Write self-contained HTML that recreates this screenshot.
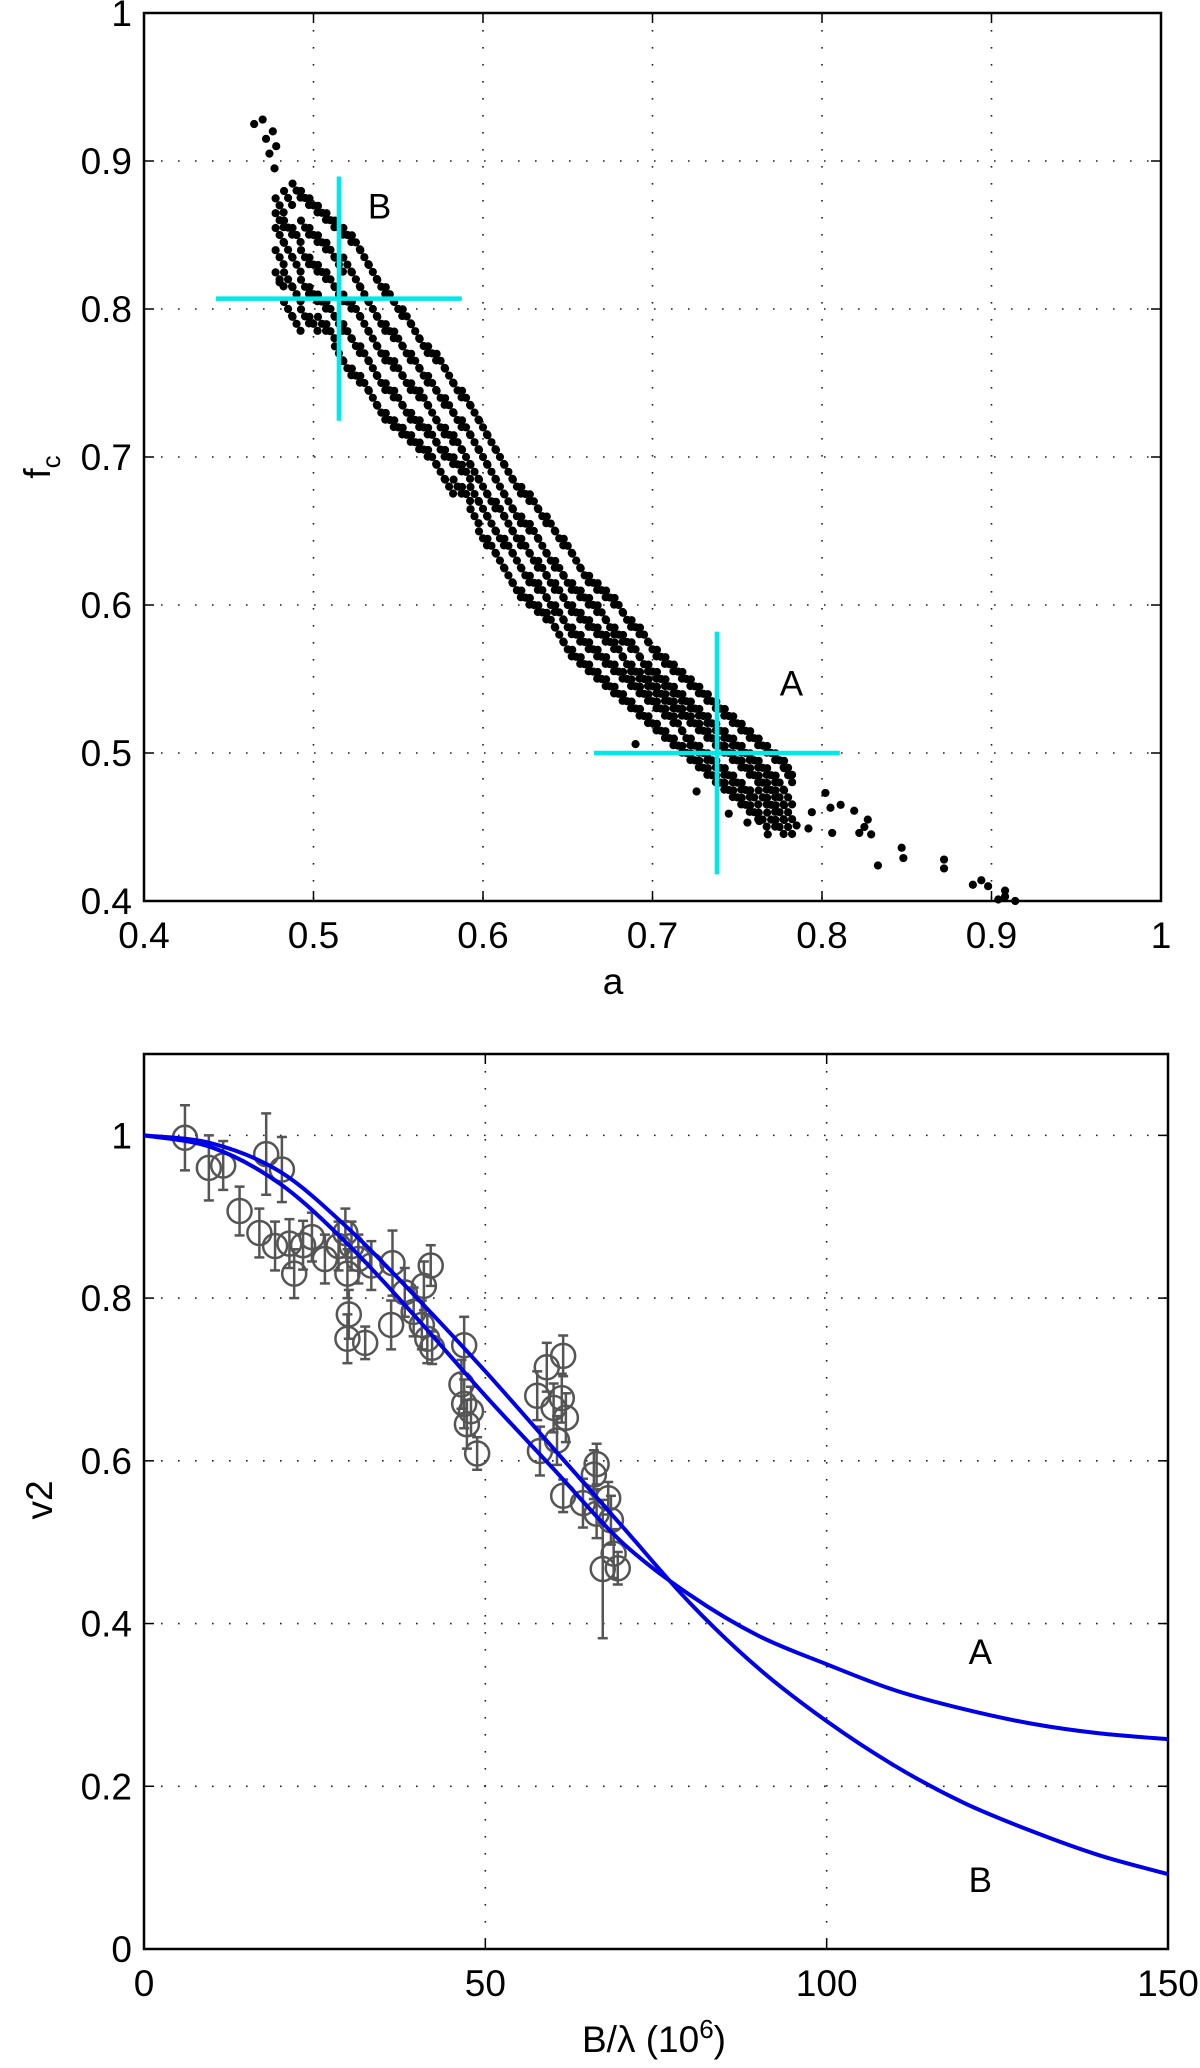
<!DOCTYPE html>
<html><head><meta charset="utf-8"><style>
html,body{margin:0;padding:0;background:#fff;}
svg{display:block;font-family:"Liberation Sans",sans-serif;}
</style></head><body>
<svg id="fig" width="1200" height="2068" viewBox="0 0 1200 2068" xmlns="http://www.w3.org/2000/svg">
<g id="top"></g>
<g id="bot"></g>
</svg>
<script>
// ---------- TOP PANEL DATA ----------
const topXTicks = [0.4,0.5,0.6,0.7,0.8,0.9,1];
const topYTicks = [0.4,0.5,0.6,0.7,0.8,0.9,1];
const topXTickLabels = ["0.4","0.5","0.6","0.7","0.8","0.9","1"];
const topYTickLabels = ["0.4","0.5","0.6","0.7","0.8","0.9","1"];
const bandA = [0.480,0.485,0.490,0.495,0.500,0.505,0.510,0.515,0.520,0.525,0.530,0.535,0.540,0.545,0.550,0.555,0.560,0.565,0.570,0.575,0.580,0.585,0.590,0.595,0.600,0.605,0.610,0.615,0.620,0.625,0.630,0.635,0.640,0.645,0.650,0.655,0.660,0.665,0.670,0.675,0.680,0.685,0.690,0.695,0.700,0.705,0.710,0.715,0.720,0.725,0.730,0.735,0.740,0.745,0.750,0.755,0.760,0.765,0.770,0.775,0.780];
const bandF = [
[.82,.835,.85,.86,.87],[.80,.82,.84,.855,.875],[.79,.81,.83,.85,.88],[.795,.815,.835,.855,.875],[.79,.81,.83,.85,.87],
[.79,.805,.825,.845,.865],[.785,.80,.82,.84,.86],[.77,.79,.81,.83,.855],[.76,.785,.805,.83,.85],[.755,.775,.80,.82,.845],
[.75,.77,.79,.81,.835],[.74,.76,.78,.80,.825],[.73,.75,.77,.79,.815],[.725,.745,.765,.785,.81],[.72,.74,.76,.78,.80],
[.715,.73,.75,.77,.795],[.71,.725,.745,.765,.785],[.705,.72,.74,.755,.775],[.70,.715,.73,.75,.77],[.69,.705,.72,.74,.765],
[.68,.70,.715,.735,.755],[.68,.695,.71,.725,.745],[.675,.69,.70,.72,.74],[.66,.675,.69,.71,.73],[.645,.665,.68,.70,.72],
[.64,.655,.67,.69,.71],[.63,.645,.665,.68,.70],[.62,.64,.655,.67,.69],[.61,.63,.645,.66,.68],[.605,.62,.64,.655,.675],
[.60,.615,.63,.65,.67],[.595,.61,.625,.64,.66],[.59,.60,.615,.63,.655],[.58,.595,.61,.625,.645],[.57,.585,.60,.615,.64],
[.565,.58,.595,.61,.63],[.56,.575,.59,.605,.62],[.555,.57,.585,.60,.615],[.55,.565,.58,.595,.61],[.545,.56,.575,.585,.605],
[.54,.555,.57,.58,.60],[.535,.55,.56,.575,.59],[.53,.545,.555,.57,.585],[.525,.54,.55,.56,.58],[.52,.535,.545,.555,.57],
[.515,.53,.54,.55,.565],[.51,.525,.535,.545,.56],[.505,.52,.53,.54,.555],[.50,.51,.525,.535,.55],[.495,.505,.52,.53,.545],
[.49,.50,.515,.525,.54],[.485,.495,.51,.52,.535],[.48,.49,.505,.515,.53],[.475,.485,.50,.51,.525],[.47,.48,.495,.505,.52],
[.465,.475,.49,.50,.515],[.46,.47,.485,.495,.51],[.455,.47,.48,.49,.505],[.455,.465,.475,.485,.50],[.45,.46,.47,.48,.495],[.45,.46,.47,.485,.49]];
const extraA = [0.465,0.47,0.472,0.474,0.476,0.478,0.477,0.48,0.833,0.847,0.848,0.872,0.872,0.889,0.894,0.898,0.904,0.908,0.908,0.914,0.822,0.829,0.825,0.827,0.819,0.811,0.805,0.806,0.802,0.794,0.792,0.785,0.768,0.763,0.756,0.745,0.726,0.690];
const extraF = [0.925,0.928,0.915,0.905,0.92,0.91,0.895,0.818,0.424,0.436,0.429,0.428,0.422,0.411,0.414,0.410,0.401,0.407,0.403,0.400,0.446,0.445,0.450,0.455,0.461,0.465,0.463,0.446,0.473,0.460,0.449,0.451,0.445,0.454,0.453,0.459,0.474,0.506];
const crossCenterA = [0.515, 0.738];
const crossCenterF = [0.807, 0.500];
const crossHalfW = [0.0725, 0.0725];
const crossHalfH = [0.0825, 0.082];
const crossLabels = ["B","A"];
const crossLabelA = [0.539, 0.782];
const crossLabelF = [0.861, 0.539];

// ---------- BOTTOM PANEL DATA ----------
const botXTicks = [0,50,100,150];
const botXTickLabels = ["0","50","100","150"];
const botYTicks = [0,0.2,0.4,0.6,0.8,1];
const botYTickLabels = ["0","0.2","0.4","0.6","0.8","1"];
const obsX = [6,9.5,11.6,14,16.9,17.9,19.2,20.2,21.3,22,23.3,24.6,26.5,28.5,29.5,29.8,30,29.8,30.4,31.4,32.4,33.3,36.2,36.4,38.2,39.5,40.7,41,41.5,42.2,42,46.5,46.9,46.9,47.3,47.9,48.8,57.6,58,59,60,60.5,61.2,61.4,61.4,61.8,64.3,65.9,66.3,66.3,67.2,68,68.4,68.8,69.4];
const obsY = [0.997,0.96,0.963,0.907,0.88,0.977,0.864,0.958,0.867,0.83,0.865,0.875,0.848,0.864,0.88,0.83,0.78,0.75,0.864,0.848,0.745,0.84,0.767,0.843,0.807,0.783,0.767,0.815,0.75,0.739,0.84,0.694,0.742,0.67,0.645,0.661,0.609,0.68,0.612,0.715,0.665,0.625,0.677,0.729,0.557,0.653,0.548,0.583,0.535,0.596,0.467,0.554,0.527,0.486,0.468];
const obsErr = [0.04,0.04,0.03,0.03,0.03,0.05,0.03,0.04,0.03,0.03,0.03,0.03,0.03,0.03,0.03,0.03,0.03,0.03,0.03,0.03,0.02,0.03,0.03,0.04,0.03,0.03,0.03,0.03,0.03,0.02,0.025,0.03,0.035,0.03,0.03,0.03,0.02,0.03,0.03,0.03,0.03,0.03,0.03,0.025,0.02,0.03,0.03,0.03,0.03,0.025,0.085,0.02,0.03,0.03,0.02];
const curveX = [0,10,20,30,40,50,60,70,80,90,100,110,120,130,140,150];
const curveAY = [1,0.985,0.94,0.865,0.775,0.68,0.59,0.50,0.435,0.385,0.35,0.318,0.295,0.277,0.265,0.258];
const curveBY = [1,0.99,0.955,0.885,0.80,0.71,0.615,0.52,0.425,0.345,0.28,0.225,0.18,0.145,0.115,0.092];
const curveLabels = ["A","B"];
const curveLabelX = [122.5,122.5];
const curveLabelY = [0.35,0.07];

const NS = "http://www.w3.org/2000/svg";
function mk(tag, attrs, parent){const e=document.createElementNS(NS,tag);for(const k in attrs)e.setAttribute(k,attrs[k]);parent.appendChild(e);return e;}

const T = {l:144,r:1161,t:13,b:901,x0:0.4,x1:1,y0:0.4,y1:1};
const B = {l:144,r:1168,t:1054,b:1949,x0:0,x1:150,y0:0,y1:1.1};
function sx(p,v){return p.l+(v-p.x0)/(p.x1-p.x0)*(p.r-p.l);}
function sy(p,v){return p.b-(v-p.y0)/(p.y1-p.y0)*(p.b-p.t);}

function frame(p,g,xt,xl,yt,yl){
  xt.forEach((v,i)=>{const x=sx(p,v);
    if(v>p.x0&&v<p.x1){const gl=mk('line',{x1:x,y1:p.t,x2:x,y2:p.b,stroke:'#222','stroke-width':1.6,'stroke-dasharray':'1.6 15.4'},g);
      
      
      mk('line',{x1:x,y1:p.b,x2:x,y2:p.b-10,stroke:'#000','stroke-width':1.5},g);
      mk('line',{x1:x,y1:p.t,x2:x,y2:p.t+10,stroke:'#000','stroke-width':1.5},g);}
    const t=mk('text',{x:x,y:p.b+47,'font-size':37,'text-anchor':'middle',fill:'#000'},g);t.textContent=xl[i];
    
    
  });
  yt.forEach((v,i)=>{const y=sy(p,v);
    if(v>p.y0&&v<p.y1){const gl=mk('line',{x1:p.l,y1:y,x2:p.r,y2:y,stroke:'#222','stroke-width':1.6,'stroke-dasharray':'1.6 15.4'},g);
      
      
      mk('line',{x1:p.l,y1:y,x2:p.l+10,y2:y,stroke:'#000','stroke-width':1.5},g);
      mk('line',{x1:p.r,y1:y,x2:p.r-10,y2:y,stroke:'#000','stroke-width':1.5},g);}
    const t=mk('text',{x:p.l-12,y:y+13,'font-size':37,'text-anchor':'end',fill:'#000'},g);t.textContent=yl[i];
    
    
  });
  const r=mk('rect',{x:p.l,y:p.t,width:p.r-p.l,height:p.b-p.t,fill:'none',stroke:'#000','stroke-width':2.5},g);
  
  
}

// TOP
const gt=document.getElementById('top');
frame(T,gt,topXTicks,topXTickLabels,topYTicks,topYTickLabels);
const gd=mk('g',{fill:'#000'},gt);


const copies=[[-4,-7],[0,0],[4,7]];
bandA.forEach((a,i)=>{bandF[i].forEach(f=>{
  const x=sx(T,a),y=sy(T,f);
  copies.forEach(o=>{
    const c=mk('circle',{cx:x+o[0],cy:y+o[1],r:4.1},gd);
    
    
  });
});});
extraA.forEach((a,i)=>{
  const c=mk('circle',{cx:sx(T,a),cy:sy(T,extraF[i]),r:4.1},gd);
  
  
});
crossCenterA.forEach((a,i)=>{
  const f=crossCenterF[i];
  const g=mk('g',{stroke:'#00e8e8','stroke-width':4.5},gt);
  
  
  mk('line',{x1:sx(T,a-crossHalfW[i]),y1:sy(T,f),x2:sx(T,a+crossHalfW[i]),y2:sy(T,f)},g);
  mk('line',{x1:sx(T,a),y1:sy(T,f-crossHalfH[i]),x2:sx(T,a),y2:sy(T,f+crossHalfH[i])},g);
  const t=mk('text',{x:sx(T,crossLabelA[i]),y:sy(T,crossLabelF[i]),'font-size':35,'text-anchor':'middle',fill:'#000'},gt);
  t.textContent=crossLabels[i];
  
  
});
let t1=mk('text',{x:613,y:994,'font-size':37,'text-anchor':'middle'},gt);t1.textContent='a';


let t2=mk('text',{x:50,y:467,'font-size':37,'text-anchor':'middle',transform:'rotate(-90 50 467)'},gt);
t2.innerHTML='f<tspan dy="10" font-size="26">c</tspan>';



// BOTTOM
const gb=document.getElementById('bot');
frame(B,gb,botXTicks,botXTickLabels,botYTicks,botYTickLabels);
const go=mk('g',{stroke:'#555','stroke-width':2.5,fill:'none'},gb);


obsX.forEach((v,i)=>{
  const x=sx(B,v),y=sy(B,obsY[i]),y1=sy(B,obsY[i]+obsErr[i]),y2=sy(B,obsY[i]-obsErr[i]);
  const g=mk('g',{},go);
  
  
  mk('circle',{cx:x,cy:y,r:12},g);
  mk('line',{x1:x,y1:y1,x2:x,y2:y2},g);
  mk('line',{x1:x-5,y1:y1,x2:x+5,y2:y1},g);
  mk('line',{x1:x-5,y1:y2,x2:x+5,y2:y2},g);
});
function smooth(xs,ys){
  const P=xs.map((v,i)=>[sx(B,v),sy(B,ys[i])]);
  let d='M'+P[0][0]+','+P[0][1];
  for(let i=0;i<P.length-1;i++){
    const p0=P[Math.max(0,i-1)],p1=P[i],p2=P[i+1],p3=P[Math.min(P.length-1,i+2)];
    const c1=[p1[0]+(p2[0]-p0[0])/6,p1[1]+(p2[1]-p0[1])/6],c2=[p2[0]-(p3[0]-p1[0])/6,p2[1]-(p3[1]-p1[1])/6];
    d+=' C'+c1+' '+c2+' '+p2;
  }
  return d;
}
[[curveAY,'model-curve-a'],[curveBY,'model-curve-b']].forEach(([ys,nm])=>{
  const p=mk('path',{d:smooth(curveX,ys),fill:'none',stroke:'#0000e6','stroke-width':4},gb);
  
  
});
curveLabels.forEach((s,i)=>{
  const t=mk('text',{x:sx(B,curveLabelX[i]),y:sy(B,curveLabelY[i]),'font-size':35,'text-anchor':'middle'},gb);
  t.textContent=s;
  
  
});
let t3=mk('text',{x:654,y:2052,'font-size':37,'text-anchor':'middle'},gb);
t3.innerHTML='B/λ (10<tspan dy="-14" font-size="26">6</tspan><tspan dy="14">)</tspan>';


let t4=mk('text',{x:52,y:1500,'font-size':37,'text-anchor':'middle',transform:'rotate(-90 52 1500)'},gb);
t4.textContent='v2';


</script>
</body></html>
